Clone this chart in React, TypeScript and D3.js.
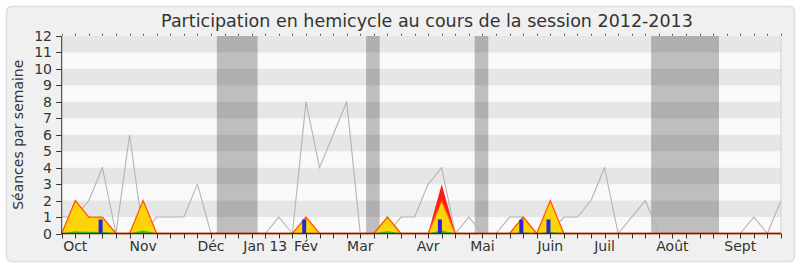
import React from "react";
import * as d3 from "d3";

const W = 800;
const H = 267;

// Weekly series, week 0 .. week 53 of the 2012-2013 session
const seancesTotal = [
  1, 1, 2, 4, 0, 6, 0, 1, 1, 1, 3, 0, 0, 0, 0, 0, 1, 0, 8, 4, 6, 8, 0, 0, 0, 1, 1,
  3, 4, 0, 1, 0, 0, 1, 1, 0, 0, 1, 1, 2, 4, 0, 1, 2, 0, 0, 0, 0, 0, 0, 0, 1, 0, 2,
];
const presences = [
  0, 2, 1, 1, 0, 0, 2, 0, 0, 0, 0, 0, 0, 0, 0, 0, 0, 0, 1, 0, 0, 0, 0, 0, 1, 0, 0,
  0, 2, 0, 0, 0, 0, 0, 1, 0, 2, 0, 0, 0, 0, 0, 0, 0, 0, 0, 0, 0, 0, 0, 0, 0, 0, 0,
];
const participations = [
  0, 2, 1, 1, 0, 0, 2, 0, 0, 0, 0, 0, 0, 0, 0, 0, 0, 0, 1, 0, 0, 0, 0, 0, 1, 0, 0,
  0, 3, 0, 0, 0, 0, 0, 1, 0, 2, 0, 0, 0, 0, 0, 0, 0, 0, 0, 0, 0, 0, 0, 0, 0, 0, 0,
];
const interventions = [
  0, 0.13, 0.1, 0.1, 0, 0, 0.2, 0, 0, 0, 0, 0, 0, 0, 0, 0, 0, 0, 0, 0, 0, 0, 0, 0,
  0.15, 0, 0, 0, 0.2, 0, 0, 0, 0, 0, 0.08, 0, 0.1, 0, 0, 0, 0, 0, 0, 0, 0, 0, 0, 0,
  0, 0, 0, 0, 0, 0,
];
const questionWeeks = [3, 18, 28, 34, 36];
const questionValues = [0.85, 0.85, 0.85, 0.85, 0.85];

// Holiday periods (in weeks)
const vacanceStart = [11.43, 22.43, 30.43, 43.43];
const vacanceEnd = [14.43, 23.43, 31.43, 48.43];

const monthLabels = ["Oct", "Nov", "Déc", "Jan 13", "Fév", "Mar", "Avr", "Mai", "Juin", "Juil", "Août", "Sept"];
const monthWeeks = [1, 6, 11, 15, 18, 22, 27, 31, 36, 40, 45, 50];
const yTicks = d3.range(0, 13);

const FONT = "DejaVu Sans, sans-serif";

export default function App() {
  const nWeeks = seancesTotal.length - 1;
  const x = d3.scaleLinear().domain([0, nWeeks]).range([61.7, 781]);
  const y = d3.scaleLinear().domain([0, 12]).range([233.5, 36]);
  const idx = d3.range(seancesTotal.length);

  const areaOf = (vals: number[]) =>
    d3
      .area<number>()
      .x((i) => x(i))
      .y0(y(0))
      .y1((i) => y(vals[i]))(idx) as string;
  const lineOf = (vals: number[]) =>
    d3
      .line<number>()
      .x((i) => x(i))
      .y((i) => y(vals[i]))(idx) as string;

  const x0 = x(0);
  const x1 = x(nWeeks);

  return (
    <svg
      width={W}
      height={H}
      style={{ position: "absolute", left: 0, top: 0 }}
      fontFamily={FONT}
    >
      <rect x={0} y={0} width={W} height={H} fill="#ffffff" />
      <rect x={6.5} y={6.5} width={788} height={255} rx={5} fill="#f0f0f0" stroke="#dedede" strokeWidth={1.5} />

      {/* plot background */}
      <rect x={x0} y={y(12)} width={x1 - x0} height={y(0) - y(12)} fill="#f9f9f9" />

      {/* holiday bands */}
      {vacanceStart.map((s, i) => (
        <rect
          key={"v" + i}
          x={x(s)}
          y={y(12)}
          width={x(vacanceEnd[i]) - x(s)}
          height={y(0) - y(12)}
          fill="#bebebe"
        />
      ))}

      {/* alternating stripes */}
      {yTicks
        .filter((t) => t % 2 === 1)
        .map((t) => (
          <rect
            key={"s" + t}
            x={x0}
            y={y(t + 1)}
            width={x1 - x0}
            height={y(t) - y(t + 1)}
            fill="#000"
            fillOpacity={0.076}
          />
        ))}

      {/* total sittings per week */}
      <path d={lineOf(seancesTotal)} fill="none" stroke="#b4b4b4" strokeWidth={1.1} />

      {/* participation */}
      <path d={areaOf(participations)} fill="#ff1a1a" />
      <path d={areaOf(presences)} fill="#ffd30a" />
      <path d={lineOf(presences)} fill="none" stroke="#ff5a00" strokeWidth={1.3} />
      <path d={areaOf(interventions)} fill="#22e022" />

      {/* questions */}
      {questionWeeks.map((w, i) => (
        <rect
          key={"q" + i}
          x={x(w) - 3.8}
          y={y(questionValues[i])}
          width={4}
          height={y(0) - y(questionValues[i])}
          fill="#2626d9"
        />
      ))}

      {/* axes */}
      <line x1={x1} x2={x1} y1={y(12)} y2={y(0)} stroke="#cfcfcf" strokeWidth={1} />
      <line x1={x0} x2={x0} y1={y(12)} y2={y(0) + 0.5} stroke="#333" strokeWidth={1} />
      <line x1={x0} x2={x1} y1={y(0)} y2={y(0)} stroke="#7a1a00" strokeWidth={1.5} />

      {yTicks.map((t) => (
        <g key={"yt" + t}>
          <line x1={x0 - 5.5} x2={x0} y1={Math.round(y(t)) + 0.5} y2={Math.round(y(t)) + 0.5} stroke="#333" />
          <text x={52} y={y(t)} dy="0.36em" textAnchor="end" fontSize={14} fill="#333">
            {t}
          </text>
        </g>
      ))}

      {idx.map((i) => (
        <g key={"xt" + i}>
          <line x1={Math.round(x(i)) + 0.5} x2={Math.round(x(i)) + 0.5} y1={y(0)} y2={y(0) + 5} stroke="#333" />
          <line x1={Math.round(x(i)) + 0.5} x2={Math.round(x(i)) + 0.5} y1={y(12) - 2} y2={y(12) - 0.5} stroke="#333" />
        </g>
      ))}

      {monthLabels.map((m, i) => (
        <text key={"m" + i} x={x(monthWeeks[i])} y={250.5} textAnchor="middle" fontSize={14} fill="#333">
          {m}
        </text>
      ))}

      <text
        transform={`translate(23, ${(y(0) + y(12)) / 2}) rotate(-90)`}
        textAnchor="middle"
        fontSize={14}
        fill="#333"
      >
        Séances par semaine
      </text>

      <text x={427} y={27} textAnchor="middle" fontSize={17.5} fill="#333">
        Participation en hemicycle au cours de la session 2012-2013
      </text>
    </svg>
  );
}
